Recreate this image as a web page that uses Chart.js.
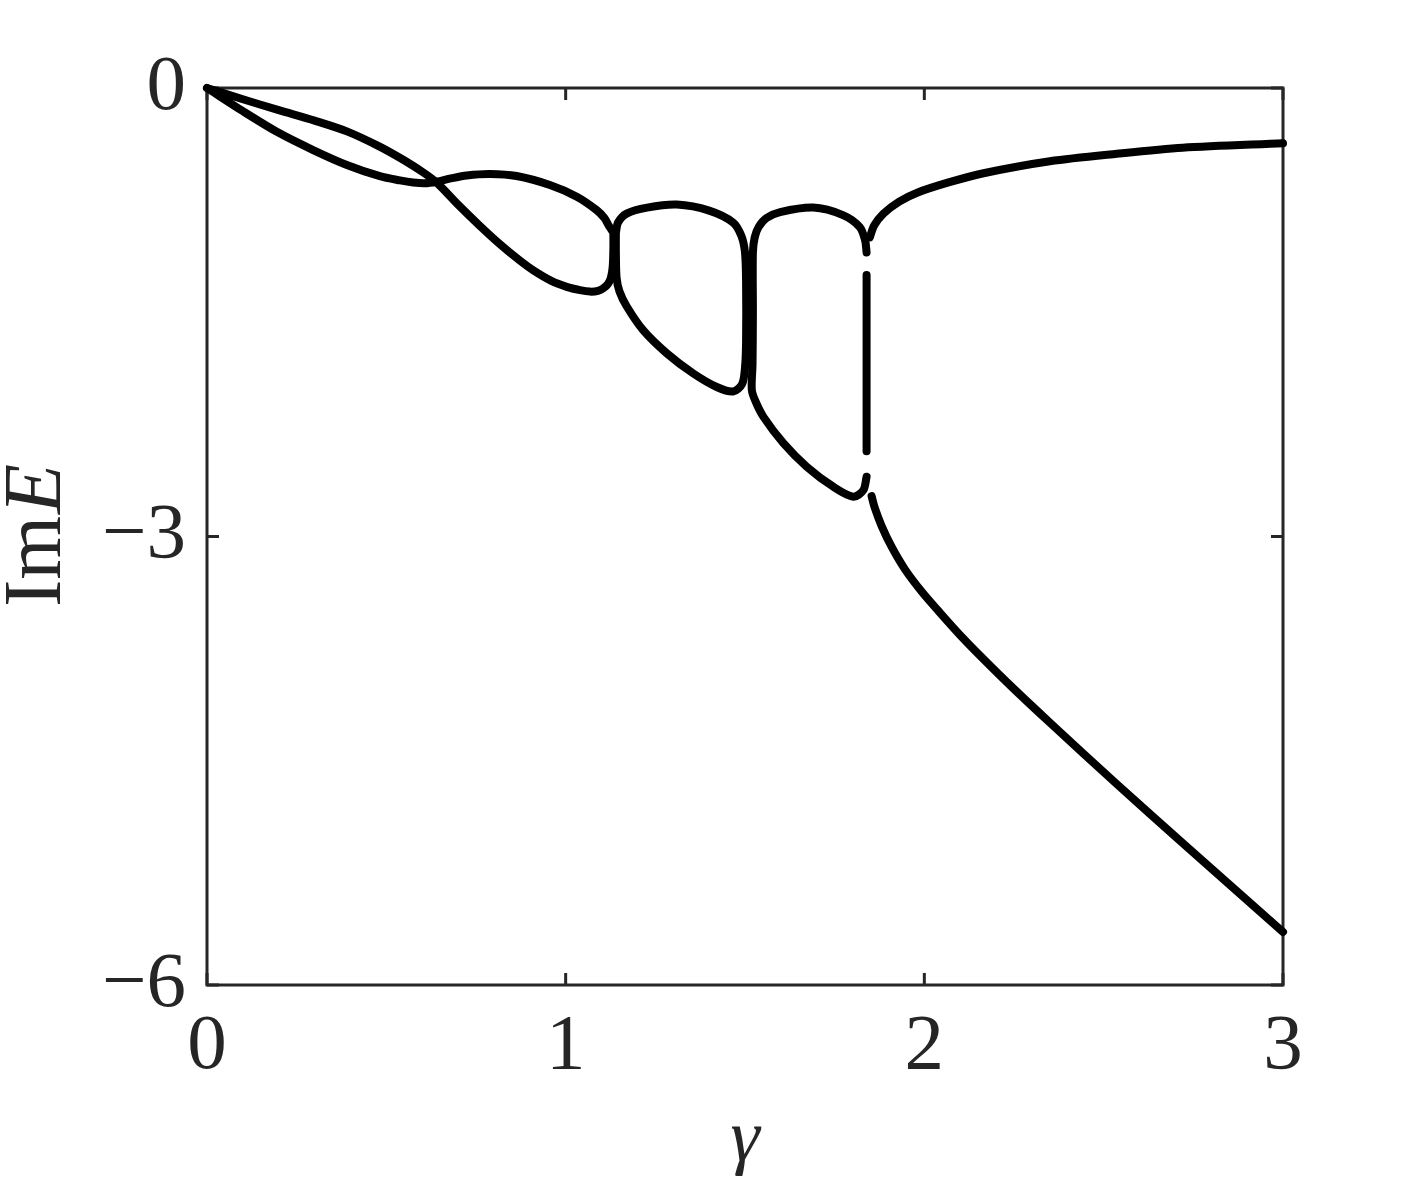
<!DOCTYPE html>
<html lang="en">
<head>
  <meta charset="UTF-8" />
  <title>Im E against gamma</title>
  <script src="https://cdn.jsdelivr.net/npm/chart.js"></script>
  <style>
    html, body { margin: 0; padding: 0; background: #fff; }
    canvas { display: block; }
  </style>
</head>
<body>
  <canvas id="imChart" width="1417" height="1181"></canvas>

  <script>
    // tick positions
    const xTicks = [0, 1, 2, 3];
    const yTicks = [0, -3, -6];

    // leaves the origin on the lower side, crosses, then the upper arc of the first loop
    const branch1X = [0, 0.1, 0.2, 0.296, 0.39, 0.482, 0.538, 0.575, 0.608, 0.64, 0.68, 0.724, 0.789, 0.863, 0.956, 1.031, 1.086, 1.108, 1.119, 1.128];
    const branch1Y = [0, -0.155, -0.30, -0.415, -0.515, -0.59, -0.618, -0.632, -0.637, -0.627, -0.605, -0.585, -0.575, -0.589, -0.649, -0.727, -0.816, -0.87, -0.916, -0.95];

    // leaves the origin on the upper side, crosses, then the lower arc of the first loop
    const branch2X = [0, 0.1, 0.2, 0.3, 0.39, 0.48, 0.54, 0.60, 0.64, 0.70, 0.76, 0.817, 0.87, 0.91, 0.96, 1.003, 1.04, 1.068, 1.09, 1.105, 1.118, 1.126, 1.131, 1.133, 1.133];
    const branch2Y = [0, -0.075, -0.148, -0.218, -0.29, -0.39, -0.47, -0.56, -0.632, -0.78, -0.92, -1.045, -1.15, -1.22, -1.29, -1.33, -1.352, -1.362, -1.357, -1.34, -1.31, -1.27, -1.20, -1.08, -0.95];

    // second loop (closed)
    const loop2X = [1.140, 1.146, 1.17, 1.227, 1.31, 1.40, 1.467, 1.490, 1.500, 1.503, 1.503, 1.500, 1.492, 1.467, 1.421, 1.356, 1.282, 1.216, 1.17, 1.15, 1.142, 1.140, 1.140];
    const loop2Y = [-0.97, -0.90, -0.84, -0.80, -0.78, -0.82, -0.90, -0.99, -1.10, -1.30, -1.70, -1.87, -1.98, -2.03, -2.00, -1.91, -1.775, -1.62, -1.46, -1.36, -1.27, -1.10, -0.97];

    // third loop, open on its right side
    const loop3X = [1.839, 1.835, 1.82, 1.773, 1.69, 1.598, 1.56, 1.538, 1.527, 1.522, 1.522, 1.521, 1.519, 1.53, 1.551, 1.607, 1.672, 1.746, 1.802, 1.83, 1.839];
    const loop3Y = [-1.10, -1.02, -0.93, -0.85, -0.80, -0.83, -0.87, -0.93, -1.00, -1.10, -1.50, -1.85, -2.02, -2.10, -2.198, -2.376, -2.533, -2.667, -2.734, -2.69, -2.60];

    // vertical run of points at the last split
    const splitX = [1.839, 1.839];
    const splitY = [-1.25, -2.43];

    // the two branches after the last split
    const upperX = [1.848, 1.86, 1.886, 1.93, 1.98, 2.07, 2.165, 2.35, 2.537, 2.72, 3.0];
    const upperY = [-1.00, -0.92, -0.84, -0.76, -0.70, -0.63, -0.57, -0.49, -0.44, -0.40, -0.37];
    const lowerX = [1.853, 1.862, 1.881, 1.909, 1.946, 1.993, 2.04, 2.10, 2.165, 2.25, 2.35, 2.536, 2.72, 3.0];
    const lowerY = [-2.73, -2.81, -2.93, -3.07, -3.22, -3.37, -3.50, -3.66, -3.82, -4.02, -4.245, -4.655, -5.05, -5.645];

    const axisColor = '#262626';
    const fontFamily = '"Liberation Serif", "DejaVu Serif", serif';

    function pts(xs, ys) {
      return xs.map((x, i) => ({ x: x, y: ys[i] }));
    }

    function curve(xs, ys) {
      return {
        data: pts(xs, ys),
        showLine: true,
        borderColor: '#000',
        backgroundColor: '#000',
        borderWidth: 8,
        borderCapStyle: 'round',
        borderJoinStyle: 'round',
        pointRadius: 0,
        tension: 0.3,
        clip: false
      };
    }

    // box with inward ticks, drawn under the curves
    const framePlugin = {
      id: 'frame',
      beforeDatasetsDraw(chart) {
        const { ctx, chartArea: a, scales } = chart;
        ctx.save();
        ctx.strokeStyle = axisColor;
        ctx.lineWidth = 3;
        ctx.strokeRect(a.left, a.top, a.right - a.left, a.bottom - a.top);
        ctx.beginPath();
        xTicks.forEach(v => {
          const px = scales.x.getPixelForValue(v);
          ctx.moveTo(px, a.bottom); ctx.lineTo(px, a.bottom - 12);
          ctx.moveTo(px, a.top); ctx.lineTo(px, a.top + 12);
        });
        yTicks.forEach(v => {
          const py = scales.y.getPixelForValue(v);
          ctx.moveTo(a.left, py); ctx.lineTo(a.left + 12, py);
          ctx.moveTo(a.right, py); ctx.lineTo(a.right - 12, py);
        });
        ctx.stroke();
        ctx.restore();
      },
      afterDraw(chart) {
        // y title: upright "Im" and italic E
        const ctx = chart.ctx;
        const cy = (chart.chartArea.top + chart.chartArea.bottom) / 2;
        ctx.save();
        ctx.translate(38, cy);
        ctx.rotate(-Math.PI / 2);
        ctx.fillStyle = axisColor;
        ctx.textBaseline = 'middle';
        ctx.font = '82px ' + fontFamily;
        const w1 = ctx.measureText('Im').width;
        ctx.font = 'italic 82px ' + fontFamily;
        const w2 = ctx.measureText('E').width;
        const x0 = -(w1 + w2) / 2;
        ctx.font = '82px ' + fontFamily;
        ctx.fillText('Im', x0, 0);
        ctx.font = 'italic 82px ' + fontFamily;
        ctx.fillText('E', x0 + w1 + 2, 0);
        ctx.restore();
      }
    };

    new Chart(document.getElementById('imChart').getContext('2d'), {
      type: 'scatter',
      data: {
        datasets: [
          curve(branch1X, branch1Y),
          curve(branch2X, branch2Y),
          curve(loop2X, loop2Y),
          curve(loop3X, loop3Y),
          curve(splitX, splitY),
          curve(upperX, upperY),
          curve(lowerX, lowerY)
        ]
      },
      options: {
        responsive: false,
        animation: false,
        layout: { padding: { left: 0, right: 134, top: 88, bottom: 0 } },
        plugins: {
          legend: { display: false },
          tooltip: { enabled: false }
        },
        scales: {
          x: {
            type: 'linear',
            min: 0,
            max: 3,
            ticks: {
              stepSize: 1,
              padding: 7,
              maxRotation: 0,
              color: axisColor,
              font: { family: fontFamily, size: 79 }
            },
            grid: { display: false },
            border: { display: false },
            title: {
              display: true,
              text: 'γ',
              color: axisColor,
              font: { family: fontFamily, size: 74, style: 'italic', lineHeight: 1.1 },
              padding: { top: 0, bottom: 0 }
            },
            afterFit(scale) { scale.height = 196; }
          },
          y: {
            type: 'linear',
            min: -6,
            max: 0,
            ticks: {
              stepSize: 3,
              padding: 13,
              color: axisColor,
              font: { family: fontFamily, size: 79 },
              callback: v => v < 0 ? '\u2212' + (-v) : String(v)
            },
            grid: { display: false },
            border: { display: false },
            afterFit(scale) { scale.width = 207; }
          }
        }
      },
      plugins: [framePlugin]
    });
  </script>
</body>
</html>
